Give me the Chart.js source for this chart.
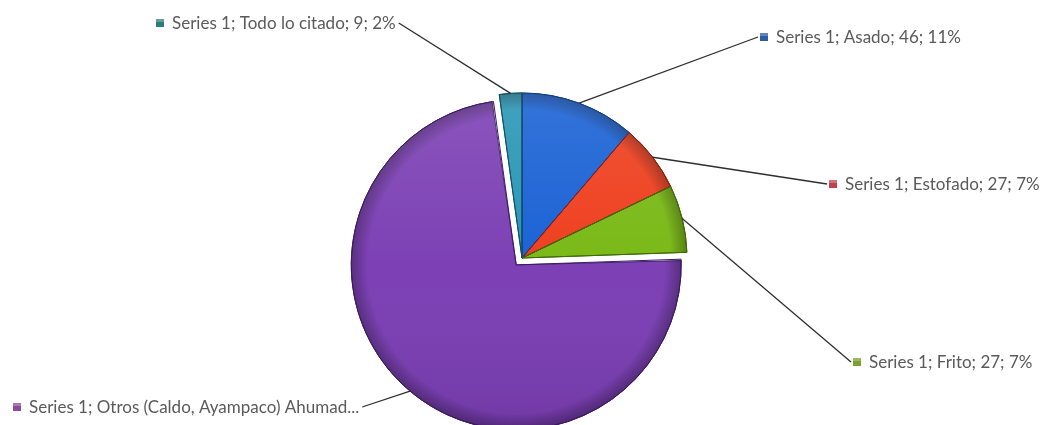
<!DOCTYPE html>
<html>
<head>
<meta charset="utf-8">
<script src="https://cdn.jsdelivr.net/npm/chart.js@4.4.1/dist/chart.umd.min.js"></script>
<style>
  html, body { margin: 0; padding: 0; background: #fff; }
  #wrap { width: 1049px; height: 425px; position: relative; }
</style>
</head>
<body>
<div id="wrap"><canvas id="grafico"></canvas></div>
<script>
// ── datos ─────────────────────────────────────────────
const serieNombre = 'Series 1';
const categorias = ['Asado', 'Estofado', 'Frito', 'Otros (Caldo, Ayampaco) Ahumado', 'Todo lo citado'];
const valores = [46, 27, 27, 300, 9];

// colores de cada porción y de su cuadrito en la etiqueta
const colores = ['#1860d4', '#ee3d1c', '#78b814', '#7a3db3', '#2795b4'];
const bordes = ['#0d3f8a', '#8c1d0c', '#3f6a06', '#3e1a66', '#0f5068'];
const colMarca = ['#2d5ba6', '#c2404c', '#77a32e', '#8a4d9c', '#2f7c80'];

// ubicación de cada etiqueta (esquina izq. del cuadrito, centro vertical)
const posEtiquetas = [
  { x: 760, y: 37 },
  { x: 829, y: 184 },
  { x: 853, y: 362 },
  { x: 13, y: 407 },
  { x: 156, y: 23 }
];

const total = valores.reduce((a, b) => a + b, 0);

function textoEtiqueta(i) {
  const pct = Math.round(valores[i] / total * 100);
  let t = `${serieNombre}; ${categorias[i]}; ${valores[i]}; ${pct}%`;
  if (t.length > 41) t = t.slice(0, 40) + '...';
  return t;
}

// centro y radio con que Chart.js pinta cada porción (offset/4 de traslado)
function geometria(arc) {
  const p = arc.getProps(['x', 'y', 'startAngle', 'endAngle', 'outerRadius']);
  const t = (arc.options.offset || 0) / 4;
  const circ = p.endAngle - p.startAngle;
  const fix = 1 - Math.sin(Math.min(Math.PI, circ));
  const mid = (p.startAngle + p.endAngle) / 2;
  return {
    cx: p.x + Math.cos(mid) * t,
    cy: p.y + Math.sin(mid) * t,
    r: p.outerRadius + t * fix,
    a0: p.startAngle, a1: p.endAngle, mid
  };
}

// la porción separada no debe crecer, sólo desplazarse
const mismoRadio = {
  id: 'mismoRadio',
  afterDatasetUpdate(chart) {
    chart.getDatasetMeta(0).data.forEach(arc => {
      const t = (arc.options.offset || 0) / 4;
      const circ = arc.endAngle - arc.startAngle;
      const fix = 1 - Math.sin(Math.min(Math.PI, circ));
      arc.outerRadius -= t * fix;
    });
  }
};

// ── relieve de las porciones ──────────────────────────
const relieve = {
  id: 'relieve',
  afterDatasetDraw(chart) {
    const ctx = chart.ctx;
    chart.getDatasetMeta(0).data.forEach((arc, i) => {
      const { cx, cy, r, a0, a1 } = geometria(arc);
      const trazo = () => {
        ctx.beginPath();
        ctx.moveTo(cx, cy);
        ctx.arc(cx, cy, r, a0, a1);
        ctx.closePath();
      };
      ctx.save();
      trazo();
      ctx.clip();
      // borde oscuro en el contorno exterior
      const g = ctx.createRadialGradient(cx, cy, 0, cx, cy, r);
      g.addColorStop(0, 'rgba(0,0,0,0)');
      g.addColorStop(0.9, 'rgba(0,0,0,0)');
      g.addColorStop(1, 'rgba(0,0,0,0.3)');
      ctx.fillStyle = g;
      ctx.fillRect(cx - r, cy - r, 2 * r, 2 * r);
      // brillo suave desde arriba
      const h = ctx.createLinearGradient(0, cy - r, 0, cy + r);
      h.addColorStop(0, 'rgba(255,255,255,0.12)');
      h.addColorStop(0.5, 'rgba(255,255,255,0.02)');
      h.addColorStop(1, 'rgba(0,0,0,0.08)');
      ctx.fillStyle = h;
      ctx.fillRect(cx - r, cy - r, 2 * r, 2 * r);
      ctx.restore();
      ctx.save();
      trazo();
      ctx.lineWidth = 1;
      ctx.strokeStyle = bordes[i];
      ctx.stroke();
      ctx.restore();
    });
  }
};

// ── etiquetas con línea guía ──────────────────────────
const etiquetas = {
  id: 'etiquetas',
  afterDraw(chart) {
    const ctx = chart.ctx;
    ctx.save();
    ctx.font = '17px Lato, "Open Sans", sans-serif';
    ctx.textBaseline = 'middle';
    chart.getDatasetMeta(0).data.forEach((arc, i) => {
      const { cx, cy, r, mid } = geometria(arc);
      const ex = cx + Math.cos(mid) * r;
      const ey = cy + Math.sin(mid) * r;
      const pos = posEtiquetas[i];
      const txt = textoEtiqueta(i);
      const tx = pos.x + 16;
      const w = ctx.measureText(txt).width;
      // la línea sale junto al cuadrito o al final del texto
      const izquierda = pos.x < arc.x;
      const lx = izquierda ? tx + w + 3 : pos.x - 2;

      ctx.beginPath();
      ctx.moveTo(lx, pos.y);
      ctx.lineTo(ex, ey);
      ctx.lineWidth = 1.3;
      ctx.strokeStyle = '#2e2e2e';
      ctx.stroke();

      ctx.fillStyle = colMarca[i];
      ctx.fillRect(pos.x, pos.y - 4, 8, 8);
      ctx.fillStyle = 'rgba(255,255,255,0.25)';
      ctx.fillRect(pos.x, pos.y - 4, 8, 3);

      ctx.fillStyle = '#5a5a5a';
      ctx.fillText(txt, tx, pos.y + 1);
    });
    ctx.restore();
  }
};

new Chart(document.getElementById('grafico'), {
  type: 'pie',
  data: {
    labels: categorias,
    datasets: [{
      label: serieNombre,
      data: valores,
      backgroundColor: colores,
      borderColor: bordes,
      borderWidth: 1,
      offset: [0, 0, 0, 36, 0]
    }]
  },
  options: {
    responsive: true,
    maintainAspectRatio: false,
    animation: false,
    radius: 165,
    layout: { padding: { left: 0, right: 5, top: 91, bottom: 0 } },
    plugins: {
      legend: { display: false },
      tooltip: { enabled: false }
    }
  },
  plugins: [mismoRadio, relieve, etiquetas]
});
</script>
</body>
</html>
